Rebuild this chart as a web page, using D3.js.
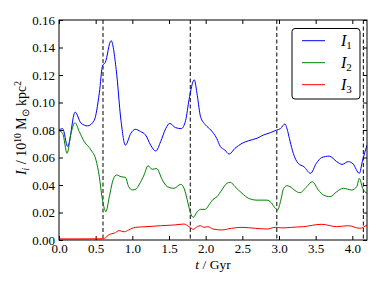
<!DOCTYPE html>
<html>
<head>
<meta charset="utf-8">
<script src="https://cdn.jsdelivr.net/npm/d3@7"></script>
<style>
  body { margin: 0; background: #fff; }
  svg { display: block; }
</style>
</head>
<body>
<div id="chart"></div>
<script>
// time samples (Gyr) and moments of inertia (1e10 Msun kpc^2)
var t1 = [0.0, 0.05, 0.118, 0.22, 0.30, 0.39, 0.48, 0.55, 0.595, 0.63, 0.71, 0.78, 0.845, 0.905, 0.98,
  1.04, 1.114, 1.18, 1.25, 1.32, 1.386, 1.455, 1.51, 1.59, 1.668, 1.727, 1.773, 1.845, 1.886, 1.93,
  2.0, 2.07, 2.15, 2.2, 2.26, 2.32, 2.40, 2.495, 2.586, 2.70, 2.79, 2.88, 2.97, 3.02, 3.08,
  3.12, 3.15, 3.195, 3.26, 3.34, 3.43, 3.51, 3.58, 3.686, 3.787, 3.86, 3.945, 4.01, 4.095, 4.14, 4.2];
var I1 = [0.080, 0.081, 0.068, 0.093, 0.085, 0.083, 0.087, 0.107, 0.127, 0.129, 0.145, 0.124, 0.087, 0.069, 0.0776,
  0.0805, 0.0788, 0.0764, 0.069, 0.0647, 0.0715, 0.081, 0.0848, 0.0817, 0.081, 0.087, 0.102, 0.1165, 0.105, 0.0897,
  0.0836, 0.080, 0.074, 0.068, 0.0655, 0.0625, 0.0667, 0.0703, 0.0722, 0.074, 0.0764, 0.078, 0.080, 0.081, 0.0844,
  0.0788, 0.072, 0.063, 0.0558, 0.0533, 0.0485, 0.0558, 0.0599, 0.061, 0.057, 0.055, 0.057, 0.0553, 0.0485, 0.058, 0.069];

var t2 = [0.0, 0.05, 0.11, 0.164, 0.218, 0.277, 0.345, 0.436, 0.505, 0.55, 0.586, 0.618, 0.64, 0.686, 0.74,
  0.787, 0.845, 0.905, 0.95, 1.0, 1.05, 1.09, 1.16, 1.214, 1.27, 1.33, 1.41, 1.477, 1.568, 1.66,
  1.705, 1.76, 1.795, 1.83, 1.886, 1.93, 1.99, 2.06, 2.1, 2.155, 2.22, 2.29, 2.336, 2.40, 2.495,
  2.586, 2.70, 2.836, 2.895, 2.95, 2.98, 3.02, 3.064, 3.11, 3.15, 3.22, 3.286, 3.378, 3.455, 3.536,
  3.605, 3.696, 3.787, 3.877, 3.99, 4.06, 4.095, 4.14, 4.2];
var I2 = [0.0795, 0.0776, 0.063, 0.0776, 0.0853, 0.0788, 0.0715, 0.0655, 0.058, 0.046, 0.0315, 0.023, 0.0206, 0.0315, 0.0441,
  0.0473, 0.046, 0.0456, 0.0388, 0.0364, 0.037, 0.040, 0.0473, 0.054, 0.0514, 0.052, 0.0436, 0.0388, 0.0376, 0.0405,
  0.0376, 0.0267, 0.0194, 0.0165, 0.0206, 0.0223, 0.0223, 0.0267, 0.0295, 0.0315, 0.0364, 0.0412, 0.042, 0.0388, 0.034,
  0.0303, 0.029, 0.029, 0.0271, 0.023, 0.0218, 0.0279, 0.0376, 0.0395, 0.0388, 0.0359, 0.0344, 0.0388, 0.0424, 0.0364,
  0.0327, 0.0315, 0.0351, 0.0376, 0.0364, 0.0388, 0.0449, 0.0376, 0.034];

var t3 = [0.0, 0.3, 0.6, 0.62, 0.686, 0.755, 0.82, 0.89, 0.95, 1.04, 1.2, 1.386, 1.568, 1.705, 1.773,
  1.83, 1.886, 1.93, 1.976, 2.03, 2.1, 2.22, 2.35, 2.495, 2.68, 2.836, 2.95, 3.04, 3.17, 3.33,
  3.58, 3.787, 3.945, 4.1, 4.2];
var I3 = [0.0008, 0.0008, 0.0009, 0.0012, 0.004, 0.005, 0.0068, 0.006, 0.0073, 0.0092, 0.0097, 0.0104, 0.0109, 0.0116, 0.0097,
  0.0078, 0.0097, 0.0104, 0.0092, 0.0097, 0.008, 0.0073, 0.0085, 0.0092, 0.0085, 0.008, 0.0092, 0.0088, 0.0092, 0.0097,
  0.0114, 0.0097, 0.0104, 0.0085, 0.011];

// snapshot times marked with dashed lines
var snapTimes = [0.6, 1.79, 2.97, 4.15];

var seriesNames = ["1", "2", "3"];
var seriesColors = ["#0000ff", "#008000", "#ff0000"];
var xTicks = [0.0, 0.5, 1.0, 1.5, 2.0, 2.5, 3.0, 3.5, 4.0];
var yTicks = [0.00, 0.02, 0.04, 0.06, 0.08, 0.10, 0.12, 0.14, 0.16];

var SERIF = "'Liberation Serif', 'Times New Roman', serif";

var W = 382, H = 287;
var margin = { left: 59, top: 20, right: 15, bottom: 47 };
var width = W - margin.left - margin.right,
  height = H - margin.top - margin.bottom;

var svg = d3.select("#chart").append("svg")
  .attr("width", W)
  .attr("height", H)
  .style("font-family", SERIF);

var g = svg.append("g")
  .attr("transform", "translate(" + margin.left + "," + margin.top + ")");

var x = d3.scaleLinear().domain([0, 4.2]).range([0, width]);
var y = d3.scaleLinear().domain([0, 0.16]).range([height, 0]);

// clip lines to the axes box
g.append("clipPath").attr("id", "clip")
  .append("rect").attr("width", width).attr("height", height);

// axes with inward ticks on all four sides
function styleAxis(sel) {
  sel.select(".domain").remove();
  sel.selectAll(".tick line").attr("stroke", "#000");
  sel.selectAll(".tick text")
    .attr("fill", "#000")
    .style("font-family", SERIF)
    .style("font-size", "13px");
}

g.append("g")
  .attr("transform", "translate(0," + height + ")")
  .call(d3.axisBottom(x).tickValues(xTicks).tickSizeInner(-4).tickSizeOuter(0).tickPadding(3.5).tickFormat(d3.format(".1f")))
  .call(styleAxis);

g.append("g")
  .call(d3.axisTop(x).tickValues(xTicks).tickSizeInner(-4).tickSizeOuter(0).tickFormat(""))
  .call(styleAxis);

g.append("g")
  .call(d3.axisLeft(y).tickValues(yTicks).tickSizeInner(-4).tickSizeOuter(0).tickPadding(4).tickFormat(d3.format(".2f")))
  .call(styleAxis);

g.append("g")
  .attr("transform", "translate(" + width + ",0)")
  .call(d3.axisRight(y).tickValues(yTicks).tickSizeInner(-4).tickSizeOuter(0).tickFormat(""))
  .call(styleAxis);

// dashed snapshot markers
g.selectAll(".snap")
  .data(snapTimes)
  .enter().append("line")
  .attr("class", "snap")
  .attr("x1", function (d) { return x(d); })
  .attr("x2", function (d) { return x(d); })
  .attr("y1", 0)
  .attr("y2", height)
  .attr("stroke", "#000")
  .attr("stroke-width", 1)
  .attr("stroke-dasharray", "4,2.5");

// the three curves
var series = [
  { name: seriesNames[0], color: seriesColors[0], t: t1, v: I1 },
  { name: seriesNames[1], color: seriesColors[1], t: t2, v: I2 },
  { name: seriesNames[2], color: seriesColors[2], t: t3, v: I3 }
];

var line = d3.line()
  .x(function (d) { return x(d[0]); })
  .y(function (d) { return y(d[1]); })
  .curve(d3.curveMonotoneX);

g.append("g").attr("clip-path", "url(#clip)")
  .selectAll("path")
  .data(series)
  .enter().append("path")
  .attr("fill", "none")
  .attr("stroke", function (d) { return d.color; })
  .attr("stroke-width", 1)
  .attr("d", function (d) { return line(d.t.map(function (t, i) { return [t, d.v[i]]; })); });

// frame
g.append("rect")
  .attr("width", width)
  .attr("height", height)
  .attr("fill", "none")
  .attr("stroke", "#000")
  .attr("stroke-width", 1);

// legend
var leg = g.append("g").attr("transform", "translate(" + (292 - margin.left) + "," + (28.5 - margin.top) + ")");
leg.append("rect")
  .attr("width", 68)
  .attr("height", 70.5)
  .attr("rx", 3)
  .attr("fill", "#fff")
  .attr("stroke", "#000")
  .attr("stroke-width", 1);

var items = leg.selectAll(".item")
  .data(series)
  .enter().append("g")
  .attr("class", "item")
  .attr("transform", function (d, i) { return "translate(0," + (12.2 + i * 22) + ")"; });

items.append("line")
  .attr("x1", 10).attr("x2", 33)
  .attr("stroke", function (d) { return d.color; })
  .attr("stroke-width", 1);

var itxt = items.append("text")
  .attr("x", 49)
  .attr("y", 5)
  .style("font-family", SERIF)
  .style("font-size", "16px");
itxt.append("tspan").style("font-style", "italic").text("I");
itxt.append("tspan").style("font-size", "11px").attr("dy", 3).text(function (d) { return d.name; });

// x label
var xl = svg.append("text")
  .attr("x", margin.left + width / 2)
  .attr("y", 268.5)
  .attr("text-anchor", "middle")
  .style("font-family", SERIF)
  .style("font-size", "13.5px");
xl.append("tspan").style("font-style", "italic").text("t");
xl.append("tspan").text(" / Gyr");

// y label
var yl = svg.append("text")
  .attr("transform", "translate(26," + (margin.top + height / 2 - 2) + ") rotate(-90)")
  .attr("text-anchor", "middle")
  .style("font-family", SERIF)
  .style("font-size", "14px");
yl.append("tspan").style("font-style", "italic").text("I");
yl.append("tspan").style("font-style", "italic").style("font-size", "9.5px").attr("dy", 3).text("i");
yl.append("tspan").attr("dy", -3).text(" / 10");
yl.append("tspan").style("font-size", "9.5px").attr("dy", -5.5).text("10");
yl.append("tspan").attr("dy", 5.5).text(" M");
yl.append("tspan").style("font-size", "9.5px").attr("dy", 3).text("\u2299");
yl.append("tspan").attr("dy", -3).text(" kpc");
yl.append("tspan").style("font-size", "9.5px").attr("dy", -5.5).text("2");
</script>
</body>
</html>
